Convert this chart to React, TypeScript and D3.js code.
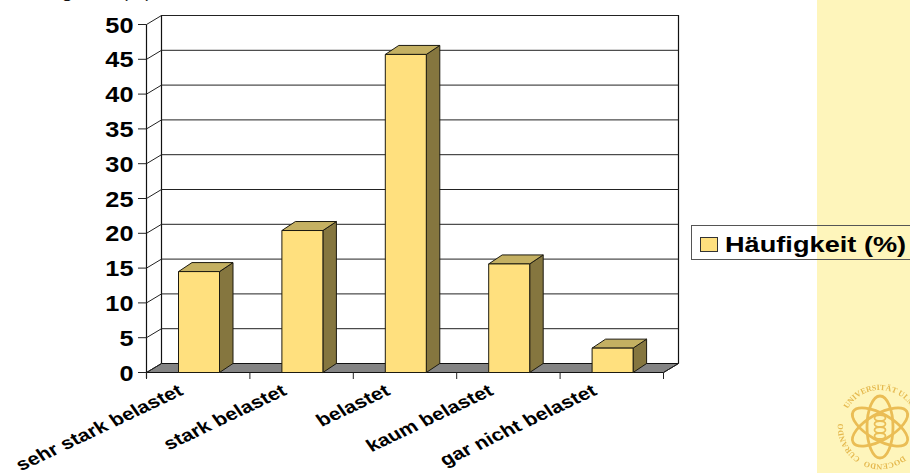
import React from "react";
import * as d3 from "d3";

const categories = ["sehr stark belastet", "stark belastet", "belastet", "kaum belastet", "gar nicht belastet"];
const values = [14.5, 20.4, 45.7, 15.6, 3.5];
const yTicks = [0, 5, 10, 15, 20, 25, 30, 35, 40, 45, 50];
const seriesName = "Häufigkeit (%)";
const pageHeading = "Angaben (%)";
const sealWords = ["UNIVERSITÄT ULM", "SCIENDO", "DOCENDO", "CURANDO"];
const sealAngles = [88, 190, 262, 333];

const FONT = "'Liberation Sans', Arial, sans-serif";
const DX = 15;
const DY = 9;
const BAR_DX = 13.5;
const BAR_DY = 9;
const SEAL_X = 880;
const SEAL_Y = 427;
const SEAL_R = 37;

export default function App() {
  const x = d3.scaleBand<string>().domain(categories).range([146.5, 663.5]);
  const y = d3.scaleLinear().domain([0, 50]).range([372.5, 24.5]);
  const barW = 41;
  const poly = (pts: [number, number][]) => pts.map((p) => p.join(",")).join(" ");
  const edges = [...categories.map((c) => x(c) as number), 663.5];
  const ring = 2 * Math.PI * SEAL_R;
  const sealArc = `a ${SEAL_R} ${SEAL_R} 0 1 1 ${2 * SEAL_R} 0 a ${SEAL_R} ${SEAL_R} 0 1 1 ${-2 * SEAL_R} 0`;

  return (
    <svg width={910} height={473} style={{ position: "absolute", left: 0, top: 0, background: "#fff" }} fontFamily={FONT}>
      <defs>
        <filter id="soft" x="-10%" y="-10%" width="120%" height="120%">
          <feGaussianBlur stdDeviation={0.5} />
        </filter>
        {/* two turns, so a word centred near the seam stays on the path */}
        <path id="sealRing" d={`M ${SEAL_X - SEAL_R} ${SEAL_Y} ${sealArc} ${sealArc}`} />
      </defs>

      <rect x={817} y={0} width={93} height={473} fill="#fef5bb" />

      {/* university seal in the sidebar */}
      <g filter="url(#soft)">
        {sealWords.map((w, i) => (
          <text key={w} fontFamily="'Liberation Serif', serif" fontSize={8} fontWeight={700} fill="#e5b94f" textAnchor="middle">
            <textPath href="#sealRing" startOffset={(sealAngles[i] / 360) * ring}>{w}</textPath>
          </text>
        ))}
        <g fill="none" stroke="#eabd55">
          {[90, 30, 150].map((a) => (
            <ellipse key={a} cx={SEAL_X} cy={SEAL_Y} rx={31} ry={13} strokeWidth={2.8} transform={`rotate(${a} ${SEAL_X} ${SEAL_Y})`} />
          ))}
          {[-9, -3, 3, 9].map((o) => (
            <ellipse key={o} cx={SEAL_X} cy={SEAL_Y + o} rx={5.5} ry={3} strokeWidth={1.8} />
          ))}
        </g>
      </g>

      <text transform="translate(38,-2) scale(1.22,1)" fontSize={16} fill="#111">{pageHeading}</text>

      {/* walls and floor */}
      <polygon points={poly([[146.5, 372.5], [146.5 + DX, 372.5 - DY], [663.5 + DX, 372.5 - DY], [663.5, 372.5]])} fill="#848484" stroke="#111" strokeWidth={1} />
      <polyline points={poly([[678.5, 363.5], [678.5, 15.5], [161.5, 15.5], [161.5, 363.5]])} fill="none" stroke="#111" strokeWidth={1.2} />
      <line x1={146.5} x2={146.5} y1={y(50)} y2={378} stroke="#111" strokeWidth={1.2} />

      {/* gridlines with their side-wall returns and ticks */}
      {yTicks.map((t) => (
        <g key={t} stroke="#222" strokeWidth={1}>
          {t > 0 && <line x1={161.5} x2={678.5} y1={y(t) - DY} y2={y(t) - DY} />}
          <line x1={146.5} x2={161.5} y1={y(t)} y2={y(t) - DY} />
          <line x1={138} x2={146.5} y1={y(t)} y2={y(t)} />
        </g>
      ))}
      {edges.map((e, i) => (
        <g key={i} stroke="#222" strokeWidth={1}>
          <line x1={e} x2={e} y1={372.5} y2={379} />
          {i === edges.length - 1 && <line x1={e} x2={e + DX} y1={372.5} y2={363.5} />}
        </g>
      ))}

      {yTicks.map((t) => (
        <text key={t} transform={`translate(133.5,${y(t) + 8}) scale(1.15,1)`} textAnchor="end" fontSize={22} fontWeight={700} fill="#000">{t}</text>
      ))}

      {/* 3D columns */}
      {categories.map((c, i) => {
        const x0 = (x(c) as number) + 32;
        const top = y(values[i]);
        const x1 = x0 + barW;
        return (
          <g key={c} stroke="#1c1a10" strokeWidth={1} strokeLinejoin="round">
            <polygon points={poly([[x1, top], [x1 + BAR_DX, top - BAR_DY], [x1 + BAR_DX, 372.5 - BAR_DY], [x1, 372.5]])} fill="#85763f" />
            <polygon points={poly([[x0, top], [x0 + BAR_DX, top - BAR_DY], [x1 + BAR_DX, top - BAR_DY], [x1, top]])} fill="#c4b062" />
            <rect x={x0} y={top} width={barW} height={372.5 - top} fill="#ffe07e" />
          </g>
        );
      })}

      {/* slanted category labels, each ending under its tick span */}
      {categories.map((c) => (
        <text
          key={c}
          transform={`translate(${(x(c) as number) + 38},394) scale(1.22,1) rotate(-30)`}
          textAnchor="end"
          fontSize={17.5}
          fontWeight={700}
          fill="#000"
        >
          {c}
        </text>
      ))}

      {/* legend */}
      <rect x={691.5} y={225.5} width={235} height={34} fill="none" stroke="#555" strokeWidth={1} />
      <rect x={700.5} y={237.5} width={17} height={14} fill="#ffe07e" stroke="#333" strokeWidth={1} />
      <text transform="translate(725,252) scale(1.235,1)" fontSize={22} fontWeight={700} fill="#000">{seriesName}</text>
    </svg>
  );
}
